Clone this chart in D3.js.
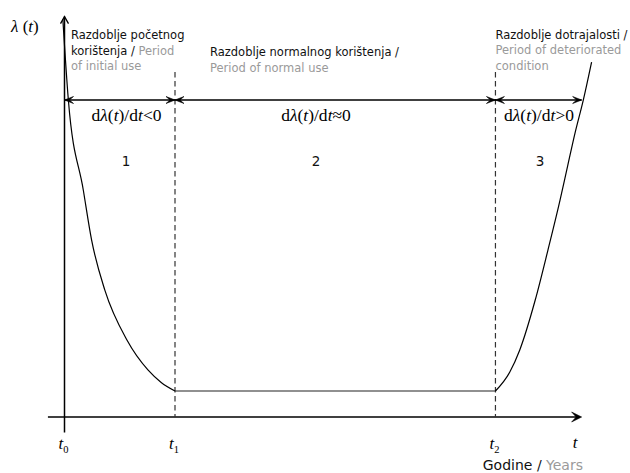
<!DOCTYPE html>
<html>
<head>
<meta charset="utf-8">
<script src="https://cdn.jsdelivr.net/npm/d3@7"></script>
<style>
  body { margin: 0; background: #fff; }
  svg { display: block; }
</style>
</head>
<body>
<div id="chart"></div>
<script>
// bathtub curve, values (t in years, lambda arbitrary units)
const earlyT = [-0.03, 0.07, 0.34, 0.49, 0.73, 1.13, 1.51, 1.75, 2.0];
const earlyRate = [15.3, 12.19, 8.73, 6.81, 4.88, 2.96, 1.81, 1.33, 1.0];
const normalT = [2.0, 7.8];
const normalRate = [1.0, 1.0];
const wearT = [7.8, 8.06, 8.24, 8.52, 8.75, 8.97, 9.11, 9.24, 9.39, 9.54];
const wearRate = [1.0, 1.73, 2.58, 4.5, 6.42, 8.35, 9.69, 10.92, 12.19, 13.65];

// period boundaries t0, t1, t2 and end of axis
const bounds = [0, 2.0, 7.8, 9.36];
const tickSubs = ["0", "1", "2"];
const slopeSigns = ["<", "≈", ">"];
const periodNums = ["1", "2", "3"];

// [text, isEnglish] pieces per line
const periodTitles = [
    [[["Razdoblje početnog", 0]], [["korištenja / ", 0], ["Period", 1]], [["of initial use", 1]]],
    [[["Razdoblje normalnog korištenja /", 0]], [["Period of normal use", 1]]],
    [[["Razdoblje dotrajalosti /", 0]], [["Period of deteriorated", 1]], [["condition", 1]]]
];

var width = 630, height = 473;
var ink = "#000", grey = "#9a9a9a";
var sans = "'DejaVu Sans', Verdana, sans-serif";
var serif = "'Liberation Serif', 'Times New Roman', serif";

var svg = d3.select("#chart").append("svg")
    .attr("width", width)
    .attr("height", height);

var x = d3.scaleLinear().domain([0, 10]).range([64.5, 617]);
var y = d3.scaleLinear().domain([0, 16]).range([417, 1]);

function arrowHead(tipX, tipY, dir, len, half) {
    // dir: 'r','l'
    len = len || 9; half = half || 3.5;
    var p;
    if (dir === 'r') p = [[tipX, tipY], [tipX - len, tipY - half], [tipX - len * 0.55, tipY], [tipX - len, tipY + half]];
    else p = [[tipX, tipY], [tipX + len, tipY - half], [tipX + len * 0.55, tipY], [tipX + len, tipY + half]];
    svg.append("path")
        .attr("d", "M" + p.join("L") + "Z")
        .attr("fill", ink)
        .attr("stroke", ink)
        .attr("stroke-width", 0.6);
}

// axes
svg.append("line")
    .attr("x1", x(0)).attr("x2", x(0))
    .attr("y1", y(-0.6)).attr("y2", y(15.4))
    .attr("stroke", ink).attr("stroke-width", 1.5);
svg.append("path")
    .attr("d", "M" + (x(0) - 4) + "," + (y(15.4) + 7) + "L" + x(0) + "," + y(15.4) + "L" + (x(0) + 4) + "," + (y(15.4) + 7))
    .attr("fill", "none").attr("stroke", ink).attr("stroke-width", 1.3);

svg.append("line")
    .attr("x1", x(-0.3)).attr("x2", x(bounds[3]) - 4)
    .attr("y1", y(0)).attr("y2", y(0))
    .attr("stroke", ink).attr("stroke-width", 1.5);
arrowHead(x(bounds[3]), y(0), 'r', 10, 5);

// dashed boundaries
[bounds[1], bounds[2]].forEach(function (b) {
    svg.append("line")
        .attr("x1", x(b)).attr("x2", x(b))
        .attr("y1", 72).attr("y2", y(0))
        .attr("stroke", "#333").attr("stroke-width", 1.2)
        .attr("stroke-dasharray", "5.5,3.5");
});

// dimension line with arrows
var dimY = 100;
svg.append("line")
    .attr("x1", x(bounds[0])).attr("x2", x(bounds[3]))
    .attr("y1", dimY).attr("y2", dimY)
    .attr("stroke", ink).attr("stroke-width", 1.3);
for (var i = 0; i < 3; i++) {
    arrowHead(x(bounds[i]), dimY, 'l');
    arrowHead(x(bounds[i + 1]), dimY, 'r');
}

// the curve
var line = d3.line()
    .x(function (d) { return x(d[0]); })
    .y(function (d) { return y(d[1]); })
    .curve(d3.curveMonotoneX);

svg.append("path")
    .attr("d", line(d3.zip(earlyT, earlyRate)))
    .attr("fill", "none").attr("stroke", ink).attr("stroke-width", 1.2);
svg.append("path")
    .attr("d", line(d3.zip(normalT, normalRate)))
    .attr("fill", "none").attr("stroke", "#222").attr("stroke-width", 1.2);
svg.append("path")
    .attr("d", line(d3.zip(wearT, wearRate)))
    .attr("fill", "none").attr("stroke", ink).attr("stroke-width", 1.2);

// period titles
var titleX = [71, 210, 495.5];
var titleY = [39, 56, 38.5];
periodTitles.forEach(function (lines, k) {
    var t = svg.append("text")
        .attr("font-family", sans)
        .attr("font-size", 11.5);
    lines.forEach(function (segs, j) {
        segs.forEach(function (s, m) {
            var ts = t.append("tspan")
                .attr("fill", s[1] ? grey : "#111")
                .text(s[0]);
            if (m === 0) ts.attr("x", titleX[k]).attr("y", titleY[k] + j * 15.5);
        });
    });
});

// slope labels  d lambda(t)/dt ? 0
var slopeX = [126.5, 316, 539];
slopeSigns.forEach(function (sg, k) {
    var t = svg.append("text")
        .attr("x", slopeX[k]).attr("y", 120.5)
        .attr("text-anchor", "middle")
        .attr("font-family", serif)
        .attr("font-size", 17.5)
        .attr("fill", ink);
    t.append("tspan").text("d");
    t.append("tspan").attr("font-style", "italic").text("λ");
    t.append("tspan").text("(");
    t.append("tspan").attr("font-style", "italic").text("t");
    t.append("tspan").text(")/d");
    t.append("tspan").attr("font-style", "italic").text("t");
    t.append("tspan").text(sg + "0");
});

// period numbers
var numX = [126, 316, 540];
periodNums.forEach(function (n, k) {
    svg.append("text")
        .attr("x", numX[k]).attr("y", 165.5)
        .attr("text-anchor", "middle")
        .attr("font-family", sans)
        .attr("font-size", 13.5)
        .attr("fill", "#111")
        .text(n);
});

// y label
var yl = svg.append("text")
    .attr("x", 11).attr("y", 32)
    .attr("font-family", serif)
    .attr("font-size", 17)
    .attr("fill", ink);
yl.append("tspan").attr("font-style", "italic").text("λ");
yl.append("tspan").text(" (");
yl.append("tspan").attr("font-style", "italic").text("t");
yl.append("tspan").text(")");

// tick labels t0, t1, t2, t
tickSubs.forEach(function (s, k) {
    var t = svg.append("text")
        .attr("x", x(bounds[k]) - 1).attr("y", 449)
        .attr("text-anchor", "middle")
        .attr("font-family", serif)
        .attr("font-size", 17)
        .attr("fill", ink);
    t.append("tspan").attr("font-style", "italic").text("t");
    t.append("tspan").attr("font-size", 10.5).attr("dy", 4).text(s);
});
svg.append("text")
    .attr("x", x(9.24)).attr("y", 448)
    .attr("text-anchor", "middle")
    .attr("font-family", serif)
    .attr("font-size", 17)
    .attr("font-style", "italic")
    .attr("fill", ink)
    .text("t");

var xl = svg.append("text")
    .attr("x", 583).attr("y", 470)
    .attr("text-anchor", "end")
    .attr("font-family", sans)
    .attr("font-size", 14)
    .attr("fill", "#111");
xl.append("tspan").text("Godine / ");
xl.append("tspan").attr("fill", grey).text("Years");
</script>
</body>
</html>
